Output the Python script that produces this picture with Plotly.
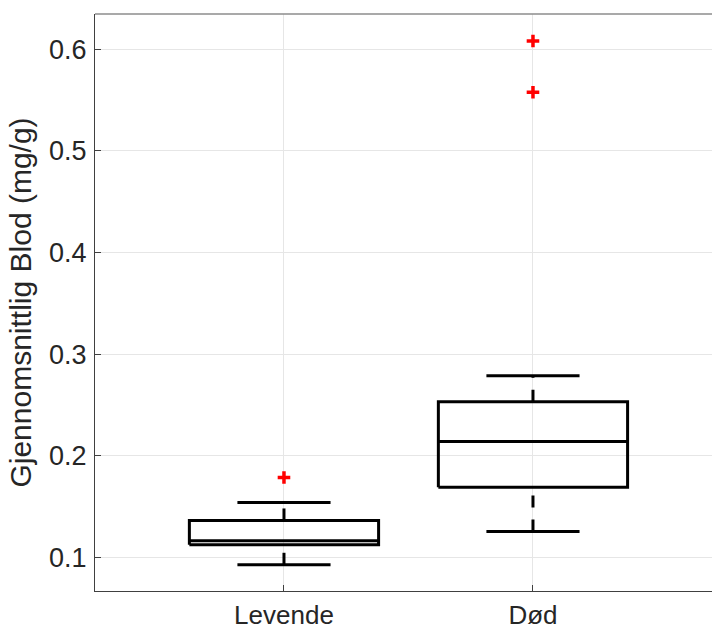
import plotly.graph_objects as go

# Box-plot summary statistics per group (mg/g)
groups = ["Levende", "Død"]
positions = [1, 2]
q1 = [0.1125, 0.1692]
medians = [0.1164, 0.2140]
q3 = [0.1364, 0.2533]
lower_whisker = [0.0928, 0.1256]
upper_whisker = [0.1541, 0.2789]
outliers = [[0.1786], [0.5577, 0.6082]]

y_ticks = [0.1, 0.2, 0.3, 0.4, 0.5, 0.6]
y_tick_labels = ["0.1", "0.2", "0.3", "0.4", "0.5", "0.6"]

BOX_HALF = 0.38
CAP_HALF = 0.187
LINE_W = 3
INK = "#000000"
AXIS = "#404040"
FONT = "Liberation Sans, Arial, sans-serif"

fig = go.Figure()

for i, pos in enumerate(positions):
    # box outline
    fig.add_trace(go.Scatter(
        x=[pos - BOX_HALF, pos + BOX_HALF, pos + BOX_HALF, pos - BOX_HALF, pos - BOX_HALF],
        y=[q1[i], q1[i], q3[i], q3[i], q1[i]],
        mode="lines", line=dict(color=INK, width=LINE_W),
        hoverinfo="skip", showlegend=False))
    # median
    fig.add_trace(go.Scatter(
        x=[pos - BOX_HALF, pos + BOX_HALF], y=[medians[i], medians[i]],
        mode="lines", line=dict(color=INK, width=LINE_W),
        hoverinfo="skip", showlegend=False))
    # dashed whiskers
    fig.add_trace(go.Scatter(
        x=[pos, pos], y=[lower_whisker[i], q1[i]],
        mode="lines", line=dict(color=INK, width=LINE_W, dash="12px,12px"),
        hoverinfo="skip", showlegend=False))
    fig.add_trace(go.Scatter(
        x=[pos, pos], y=[q3[i], upper_whisker[i]],
        mode="lines", line=dict(color=INK, width=LINE_W, dash="12px,12px"),
        hoverinfo="skip", showlegend=False))
    # whisker caps
    for w in (lower_whisker[i], upper_whisker[i]):
        fig.add_trace(go.Scatter(
            x=[pos - CAP_HALF, pos + CAP_HALF], y=[w, w],
            mode="lines", line=dict(color=INK, width=LINE_W),
            hoverinfo="skip", showlegend=False))
    # outliers
    fig.add_trace(go.Scatter(
        x=[pos] * len(outliers[i]), y=outliers[i],
        mode="markers",
        marker=dict(symbol="cross-thin", size=9,
                    line=dict(color="#ff0000", width=3.5)),
        showlegend=False))

fig.update_layout(
    width=712, height=630,
    margin=dict(l=95, r=0, t=14, b=39, autoexpand=False),
    paper_bgcolor="white", plot_bgcolor="white",
    font=dict(family=FONT, size=27, color="#262626"),
    shapes=[dict(type="line", xref="paper", yref="paper",
                 x0=0, x1=1, y0=1, y1=1,
                 line=dict(color="#8c8c8c", width=1.5))],
)

fig.update_xaxes(
    range=[0.241, 2.719],
    tickmode="array", tickvals=positions, ticktext=groups,
    showgrid=True, gridcolor="#e6e6e6", gridwidth=1,
    zeroline=False,
    showline=True, linecolor=AXIS, linewidth=1.2, mirror=False,
    ticks="inside", ticklen=6, tickcolor=AXIS, tickwidth=1,
    tickfont=dict(size=26, color="#262626"),
    ticklabelstandoff=1,
)

fig.update_yaxes(
    range=[0.067, 0.6347],
    tickmode="array", tickvals=y_ticks, ticktext=y_tick_labels,
    showgrid=True, gridcolor="#e6e6e6", gridwidth=1,
    zeroline=False,
    showline=True, linecolor=AXIS, linewidth=1.2, mirror=False,
    ticks="inside", ticklen=6, tickcolor=AXIS, tickwidth=1,
    tickfont=dict(size=27, color="#262626"),
    ticklabelstandoff=2,
    title=dict(text="Gjennomsnittlig Blod (mg/g)",
               font=dict(size=30, color="#262626"), standoff=8),
)

fig.write_html("out.html")
